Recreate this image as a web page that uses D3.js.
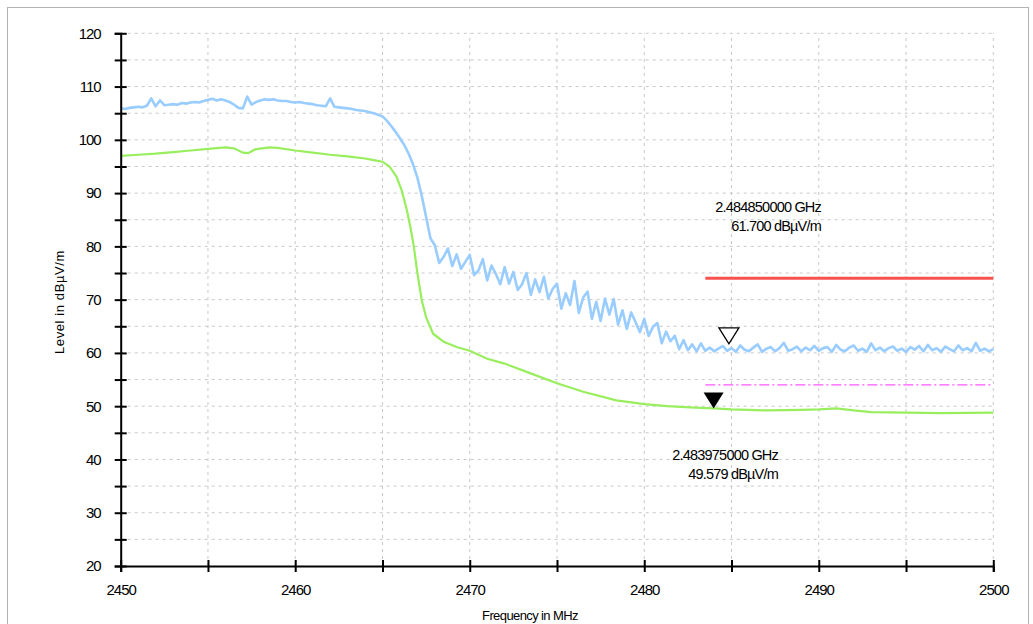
<!DOCTYPE html>
<html>
<head>
<meta charset="utf-8">
<script src="https://cdn.jsdelivr.net/npm/d3@7"></script>
<style>
    html, body { margin: 0; padding: 0; background: #fff; }
    svg { display: block; font-family: 'Liberation Sans', Arial, sans-serif; }
</style>
</head>
<body>
<div class="chart"></div>
<script>
// sweep grid of the peak trace
const sweepStart = 2450,
      sweepStep = 0.25;

// peak detector trace (blue), one value per sweep step
const peakLevel = [
    105.9, 105.8, 106.0, 106.1, 106.2, 106.1, 106.4, 107.8, 106.3, 107.4,
    106.5, 106.6, 106.7, 106.6, 106.9, 106.8, 107.0, 107.1, 107.0, 107.3,
    107.5, 107.7, 107.4, 107.6, 107.4, 107.1, 106.6, 106.0, 105.9, 108.1,
    106.6, 107.1, 107.4, 107.6, 107.5, 107.6, 107.4, 107.3, 107.3, 107.1,
    107.0, 107.1, 106.9, 106.8, 106.7, 106.5, 106.4, 106.3, 107.8, 106.2,
    106.1, 106.0, 105.9, 105.8, 105.6, 105.5, 105.4, 105.2, 105.0, 104.7,
    104.4, 103.6, 102.6, 101.5, 100.3, 99.0, 97.4, 95.4, 92.9, 89.5,
    85.5, 81.5,
    80.2, 76.9, 78.0, 79.6, 76.3, 78.5, 75.8, 77.1, 78.4, 74.6,
    75.5, 77.6, 73.6, 76.4, 74.8, 72.9, 76.1, 73.0, 75.2, 71.8,
    72.9, 75.0, 70.9, 73.8, 71.4, 74.3, 70.2, 72.0, 73.0, 68.3,
    71.2, 69.0, 73.5, 67.5, 70.4, 71.5, 66.4, 69.6, 66.0, 70.2,
    67.2, 70.1, 65.3, 68.0, 64.5, 67.6, 65.8, 63.9, 66.4, 63.2,
    64.9, 65.6, 61.8, 64.0, 62.2, 63.2, 60.7, 62.4, 60.5, 61.6,
    60.3, 61.8, 60.4,
    61.0, 60.3, 60.8, 61.3, 60.4, 60.9, 60.2, 61.4, 60.6, 60.3,
    61.0, 61.6, 60.2, 60.8, 61.1, 60.3, 60.9, 61.9, 60.4, 60.7,
    61.2, 60.3, 61.0, 60.5, 61.3, 60.4, 60.9, 61.1, 60.2, 61.5,
    60.6, 60.3, 61.0, 61.4, 60.4, 60.8, 60.2, 61.8, 60.5, 61.0,
    60.3, 60.9, 61.2, 60.4, 60.8, 60.2, 61.1, 60.6, 61.3, 60.3,
    61.5, 60.5, 60.9, 60.2, 61.2, 60.7, 60.3, 61.4, 60.5, 60.9,
    60.3, 61.9, 60.4, 60.8, 60.3, 60.7
];

// average detector trace (green)
const avgFreq = [
    2450, 2451, 2452, 2453, 2454, 2455, 2456, 2456.5, 2457, 2457.3,
    2457.7, 2458.5, 2459, 2460, 2461, 2462, 2463, 2464, 2464.5, 2465,
    2465.4, 2465.8, 2466.1, 2466.4, 2466.6, 2466.8, 2467, 2467.25, 2467.5, 2467.9,
    2468.5, 2469.25, 2470, 2471, 2472, 2473.3, 2475, 2476.5, 2478.4, 2480,
    2481.3, 2483.2, 2484, 2485, 2487, 2489, 2490, 2491, 2492, 2493,
    2495, 2497, 2500
];
const avgLevel = [
    97.0, 97.2, 97.4, 97.7, 98.0, 98.3, 98.6, 98.4, 97.6, 97.5,
    98.2, 98.6, 98.5, 98.0, 97.6, 97.2, 96.9, 96.5, 96.2, 95.9,
    95.0, 93.1, 90.5, 86.8, 83.6, 79.9, 75.0, 69.9, 66.7, 63.6,
    62.1, 61.1, 60.4, 58.9, 58.0, 56.4, 54.3, 52.7, 51.1, 50.4,
    50.0, 49.7, 49.6, 49.4, 49.2, 49.3, 49.4, 49.6, 49.2, 48.9,
    48.8, 48.7, 48.8
];

// limit lines: [start MHz, end MHz, level]
const peakLimit = [2483.5, 2500, 74];
const avgLimit = [2483.5, 2500, 54];

// markers
const markerFreq = [2484.85, 2483.975];
const markerLevel = [61.7, 49.579];
const markerText = [
    ['2.484850000 GHz', '61.700 dBµV/m'],
    ['2.483975000 GHz', '49.579 dBµV/m']
];

const yTicks = d3.range(20, 121, 5);
const xTicks = d3.range(2450, 2501, 5);

const width = 1033,
      height = 624;
let svg, x, y;

const chart = {
    init: function() {
        this.setupSvg();
        this.drawGrid();
        this.drawLimits();
        this.drawTraces();
        this.drawAxes();
        this.drawMarkers();
    },

    setupSvg: function() {
        svg = d3.select('.chart')
            .append('svg')
            .attr('width', width)
            .attr('height', height);

        // outer frame
        svg.append('rect')
            .attr('x', 7.5)
            .attr('y', 7.5)
            .attr('width', 1021)
            .attr('height', 640)
            .attr('fill', '#fff')
            .attr('stroke', '#b4b4b4');

        x = d3.scaleLinear().domain([2450, 2500]).range([120.7, 993.3]);
        y = d3.scaleLinear().domain([20, 120]).range([566, 33.3]);
    },

    drawGrid: function() {
        const grid = svg.append('g')
            .attr('stroke', '#c8c8c8')
            .attr('stroke-dasharray', '3,4');

        grid.selectAll('.hgrid')
            .data(yTicks.filter(function(d) { return d > 20; }))
            .enter().append('line')
            .attr('x1', x(2450)).attr('x2', x(2500))
            .attr('y1', function(d) { return y(d); })
            .attr('y2', function(d) { return y(d); });

        grid.selectAll('.vgrid')
            .data(xTicks.filter(function(d) { return d > 2450; }))
            .enter().append('line')
            .attr('y1', y(20)).attr('y2', y(120))
            .attr('x1', function(d) { return x(d); })
            .attr('x2', function(d) { return x(d); });
    },

    drawLimits: function() {
        svg.append('line')
            .attr('x1', x(peakLimit[0])).attr('x2', x(peakLimit[1]))
            .attr('y1', y(peakLimit[2])).attr('y2', y(peakLimit[2]))
            .attr('stroke', '#ff5050')
            .attr('stroke-width', 3);

        svg.append('line')
            .attr('x1', x(avgLimit[0])).attr('x2', x(avgLimit[1]))
            .attr('y1', y(avgLimit[2])).attr('y2', y(avgLimit[2]))
            .attr('stroke', '#ff55ff')
            .attr('stroke-width', 1.2)
            .attr('stroke-dasharray', '10,3,2,3');
    },

    drawTraces: function() {
        const line = d3.line()
            .x(function(d) { return x(d[0]); })
            .y(function(d) { return y(d[1]); });

        const peak = peakLevel.map(function(v, i) {
            return [sweepStart + i * sweepStep, v];
        });
        const avg = avgFreq.map(function(f, i) {
            return [f, avgLevel[i]];
        });

        svg.append('path')
            .datum(avg)
            .attr('d', line)
            .attr('fill', 'none')
            .attr('stroke', '#99ee5e')
            .attr('stroke-width', 2.2);

        svg.append('path')
            .datum(peak)
            .attr('d', line)
            .attr('fill', 'none')
            .attr('stroke', '#99ccff')
            .attr('stroke-width', 2.6)
            .attr('stroke-linejoin', 'round');
    },

    drawAxes: function() {
        const fmt = function(d) { return d % 10 === 0 ? d : ''; };

        const yAxis = svg.append('g')
            .attr('transform', 'translate(' + x(2450) + ',0)')
            .call(d3.axisLeft(y).tickValues(yTicks).tickFormat(fmt).tickSize(6).tickPadding(14));

        const xAxis = svg.append('g')
            .attr('transform', 'translate(0,' + y(20) + ')')
            .call(d3.axisBottom(x).tickValues(xTicks).tickFormat(fmt).tickSize(6).tickPadding(12));

        [yAxis, xAxis].forEach(function(g) {
            g.select('.domain').attr('stroke', '#000').attr('stroke-width', 2);
            g.selectAll('.tick line').attr('stroke', '#000').attr('stroke-width', 2);
            g.selectAll('.tick text')
                .attr('fill', '#000')
                .style('font-size', '15px')
                .style('letter-spacing', '-1px');
        });
        yAxis.selectAll('.tick line').attr('x1', 6);
        xAxis.selectAll('.tick line').attr('y1', -6);

        svg.append('text')
            .attr('transform', 'translate(64,302) rotate(-90)')
            .attr('text-anchor', 'middle')
            .style('font-size', '13px')
            .style('letter-spacing', '0.6px')
            .text('Level in dBµV/m');

        svg.append('text')
            .attr('x', 530)
            .attr('y', 620)
            .attr('text-anchor', 'middle')
            .style('font-size', '13px')
            .style('letter-spacing', '-0.6px')
            .text('Frequency in MHz');
    },

    drawMarkers: function() {
        const w = 10, h = 16;
        const tri = function(f, v) {
            const px = x(f), py = y(v);
            return 'M' + (px - w) + ',' + (py - h) + 'L' + (px + w) + ',' + (py - h) + 'L' + px + ',' + py + 'Z';
        };

        // marker 1, open triangle on the peak trace
        svg.append('path')
            .attr('d', tri(markerFreq[0], markerLevel[0]))
            .attr('fill', '#fff')
            .attr('stroke', '#000')
            .attr('stroke-width', 1.3);

        // marker 2, filled triangle on the average trace
        svg.append('path')
            .attr('d', tri(markerFreq[1], markerLevel[1]))
            .attr('fill', '#000');

        const labelPos = [[821, 212], [778, 460]];
        markerText.forEach(function(lines, i) {
            const t = svg.append('text')
                .attr('text-anchor', 'end')
                .style('font-size', '14.5px')
                .style('letter-spacing', '-0.8px');
            lines.forEach(function(s, j) {
                t.append('tspan')
                    .attr('x', labelPos[i][0])
                    .attr('y', labelPos[i][1] + j * 18.5)
                    .text(s);
            });
        });
    }
};

chart.init();
</script>
</body>
</html>
